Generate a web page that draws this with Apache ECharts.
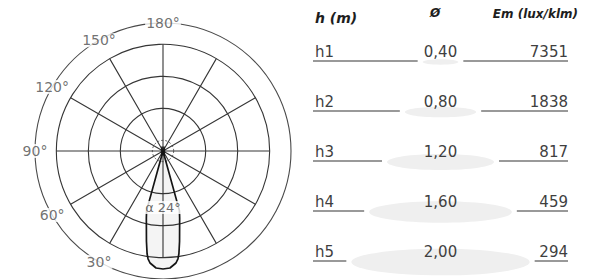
<!DOCTYPE html>
<html><head><meta charset="utf-8">
<script src="https://cdn.jsdelivr.net/npm/echarts@6/dist/echarts.min.js"></script>
<style>html,body{margin:0;padding:0;background:#fff}#c{width:593px;height:279px}</style>
</head><body><div id="c"></div>
<script>
// ---- data ----
const angleTicks = [30, 60, 90, 120, 150, 180];
const ringValues = [10, 40, 70, 100];
const radiusMax = 120;
const beamAngles = [15.4, 15.4, 13.9, 10.4, 8.8, 7.9, 6.6, 3.4, 0, -3.4, -6.6, -7.9, -8.8, -10.4, -13.9, -15.4, -15.4];
const beamIntensity = [0, 58, 65, 86, 97.5, 102, 105.7, 109.9, 110.6, 109.9, 105.7, 102, 97.5, 86, 65, 58, 0];
const beamLabel = 'α 24°';
const beamLabelPos = [53, 0];
const rows = ['h1', 'h2', 'h3', 'h4', 'h5'];
const diameters = [0.40, 0.80, 1.20, 1.60, 2.00];
const illuminance = [7351, 1838, 817, 459, 294];
const headers = ['h (m)', 'Ø', 'Em (lux/klm)'];
const spotRange = [-1.43, 1.43];

// ---- layout ----
const C = [163, 151];
const R0 = 128;
const lineCol = '#363636';
const FONT = 'DejaVu Sans';

const polars = [{center: C, radius: R0}].concat(ringValues.map(v => ({center: C, radius: v / radiusMax * R0})));
const angleAxes = polars.map((p, i) => ({
  polarIndex: i, type: 'value', min: 0, max: 360, interval: 30, startAngle: 270, clockwise: true,
  axisLine: {show: true, lineStyle: {color: i === 0 ? '#4a4a4a' : lineCol, width: i === 1 ? 0.8 : 1.1, type: i === 1 ? [2, 2] : 'solid'}},
  axisTick: {show: false}, axisLabel: {show: false},
  splitLine: {show: i === polars.length - 1, lineStyle: {color: lineCol, width: 1.1}},
  splitArea: {show: false}
}));
const radiusAxes = polars.map((p, i) => ({
  polarIndex: i, type: 'value', min: 0, max: i === 0 ? radiusMax : ringValues[i - 1],
  axisLine: {show: false}, axisTick: {show: false}, axisLabel: {show: false},
  splitLine: {show: false}, splitArea: {show: false}
}));

const fmt = d => d.toFixed(2).replace('.', ',');
const hs = {fontStyle: 'italic', fontWeight: 'bold', color: '#1e1e1e', fontFamily: FONT};

const chart = echarts.init(document.getElementById('c'), null, {renderer: 'svg'});
chart.setOption({
  animation: false,
  backgroundColor: '#fff',
  title: [
    {text: headers[0], left: 315, top: 11, padding: 0, textStyle: Object.assign({fontSize: 14}, hs)},
    {text: headers[1], left: 430, top: 7, padding: 0, textStyle: Object.assign({fontSize: 12}, hs)},
    {text: headers[2], right: 15, top: 8, padding: 0, textStyle: Object.assign({fontSize: 12}, hs)}
  ],
  polar: polars,
  angleAxis: angleAxes,
  radiusAxis: radiusAxes,
  grid: {left: 313, top: 27, width: 255, height: 250},
  xAxis: {type: 'value', min: spotRange[0], max: spotRange[1], show: false},
  yAxis: {type: 'category', data: rows, inverse: true, show: false},
  series: [
    {
      type: 'line', coordinateSystem: 'polar', polarIndex: 0, symbol: 'none', z: 3,
      data: beamIntensity.map((r, i) => [r, (beamAngles[i] + 360) % 360]),
      lineStyle: {color: '#151515', width: 1.7},
      areaStyle: {color: 'rgba(0,0,0,0.06)'}
    },
    {
      type: 'scatter', coordinateSystem: 'polar', polarIndex: 0, symbolSize: [4, 9], symbol: 'rect', z: 4,
      data: [[0, 0]], itemStyle: {color: '#111'}
    },
    {
      type: 'scatter', coordinateSystem: 'polar', polarIndex: 0, symbolSize: 0, z: 5,
      data: angleTicks.map(a => [radiusMax, a]),
      label: {show: true, position: 'inside', formatter: p => p.value[1] + '°', color: '#4d4d4d', fontSize: 14,
        fontFamily: FONT, backgroundColor: '#fff', padding: [0, 1]}
    },
    {
      type: 'scatter', coordinateSystem: 'polar', polarIndex: 0, symbolSize: 0, z: 5,
      data: [beamLabelPos],
      label: {show: true, position: 'inside', formatter: beamLabel, color: '#444', fontSize: 13,
        fontFamily: FONT, backgroundColor: '#fff', padding: [0, 1]}
    },
    {
      type: 'custom', coordinateSystem: 'cartesian2d', z: 2,
      data: rows.map((r, i) => [0, i, diameters[i], illuminance[i]]),
      renderItem: function (params, api) {
        const i = api.value(1), d = api.value(2), em = api.value(3);
        const c = api.coord([0, i]);
        const L = api.coord([spotRange[0], i])[0], Rr = api.coord([spotRange[1], i])[0];
        const half = api.size([d, 0])[0] / 2;
        const yl = c[1] + 9;
        const gap = half + 5;
        const font = '15px "' + FONT + '"';
        const ls = {stroke: '#777', lineWidth: 1.3};
        return {type: 'group', children: [
          {type: 'ellipse', shape: {cx: c[0], cy: yl + 1, rx: half, ry: half * 0.15}, style: {fill: '#efefef'}},
          {type: 'line', shape: {x1: L, y1: yl, x2: c[0] - gap, y2: yl}, style: ls},
          {type: 'line', shape: {x1: c[0] + gap, y1: yl, x2: Rr, y2: yl}, style: ls},
          {type: 'text', style: {text: rows[i], x: L + 2, y: c[1], align: 'left', verticalAlign: 'middle', font: font, fill: '#3f3f3f'}},
          {type: 'text', style: {text: fmt(d), x: c[0], y: c[1], align: 'center', verticalAlign: 'middle', font: font, fill: '#3f3f3f'}},
          {type: 'text', style: {text: String(em), x: Rr, y: c[1], align: 'right', verticalAlign: 'middle', font: font, fill: '#3f3f3f'}}
        ]};
      }
    }
  ]
});
</script></body></html>
